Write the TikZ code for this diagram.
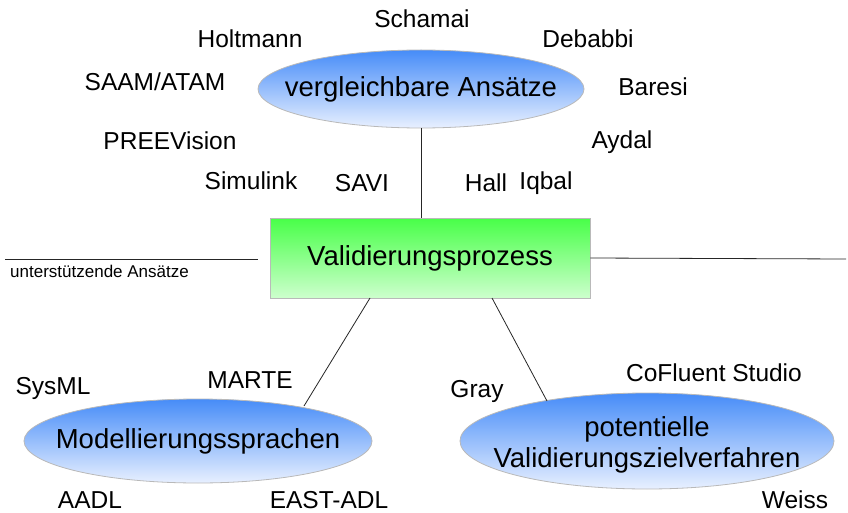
\documentclass[tikz,border=0pt]{standalone}
\usepackage{fontspec}
\setmainfont{Liberation Sans}
\usetikzlibrary{shapes.geometric}
\definecolor{blueTop}{RGB}{70,140,248}
\definecolor{blueBot}{RGB}{232,240,255}
\definecolor{greenTop}{RGB}{72,255,72}
\definecolor{greenBot}{RGB}{205,255,205}
\definecolor{rimgray}{RGB}{185,185,185}
\begin{document}
\begin{tikzpicture}[x=1pt,y=-1pt,
  topic/.style={ellipse,draw=rimgray,line width=0.8pt,top color=blueTop,bottom color=blueBot,
    inner sep=0pt},
  topictext/.style={inner sep=0pt,font=\fontsize{27.5}{31}\selectfont,align=center},
  core/.style={rectangle,draw=rimgray,line width=0.8pt,top color=greenTop,bottom color=greenBot,
    inner sep=0pt,font=\fontsize{27.5}{31}\selectfont},
  tag/.style={inner sep=0pt,font=\fontsize{24.5}{28}\selectfont},
  link/.style={draw=black!85,line width=0.8pt}]
\useasboundingbox (0,0) rectangle (848,513);

% central process box
\node[core,minimum width=320,minimum height=80] (proc) at (430,258) {Validierungsprozess};

% surrounding topics: shaded ellipses with their captions on top
\node[topic,minimum width=326,minimum height=78] (cmp) at (421,89) {};
\node[topictext] (cmpt) at (cmp.center) {vergleichbare Ansätze};
\node[topic,minimum width=348,minimum height=84] (mod) at (198,441) {};
\node[topictext] (modt) at (mod.center) {Modellierungssprachen};
\node[topic,minimum width=374,minimum height=96] (pot) at (647,441) {};
\node[topictext] (pott) at ([yshift=-4]pot.center) {potentielle\\Validierungszielverfahren};

% connectors
\draw[link] (cmp.south) -- (proc.north -| cmp.south);
\coordinate (pl) at (370,298);
\coordinate (pm) at (304,406);
\draw[link] (pl) -- (pm);
\coordinate (pr) at (492,298);
\coordinate (pp) at (547,401);
\draw[link] (pr) -- (pp);
\coordinate (ll) at (5,259);
\coordinate (lr) at (258,259);
\draw[link] (ll) -- (lr);
\coordinate (rr) at (846,259);
\draw[link] (proc.east) -- (rr);
\node[inner sep=0pt,anchor=west,font=\fontsize{17}{20}\selectfont] (sup) at (10,271) {unterstützende Ansätze};

% comparable approaches
\node[tag] (t1) at (422,19) {Schamai};
\node[tag] (t2) at (250,39) {Holtmann};
\node[tag] (t3) at (588,39) {Debabbi};
\node[tag] (t4) at (155,82) {SAAM/ATAM};
\node[tag] (t5) at (653,87) {Baresi};
\node[tag] (t6) at (170,141) {PREEVision};
\node[tag] (t7) at (622,142) {Aydal};
\node[tag] (t8) at (251,181) {Simulink};
\node[tag] (t9) at (362,183) {SAVI};
\node[tag] (t10) at (486,183) {Hall};
\node[tag] (t11) at (546,183) {Iqbal};

% modelling languages
\node[tag] (m1) at (250,380) {MARTE};
\node[tag] (m2) at (53,388) {SysML};
\node[tag] (m3) at (90,500) {AADL};
\node[tag] (m4) at (329,500) {EAST-ADL};

% target methods
\node[tag] (v1) at (477,391) {Gray};
\node[tag] (v2) at (714,373) {CoFluent Studio};
\node[tag] (v3) at (795,500) {Weiss};
\end{tikzpicture}
\end{document}
